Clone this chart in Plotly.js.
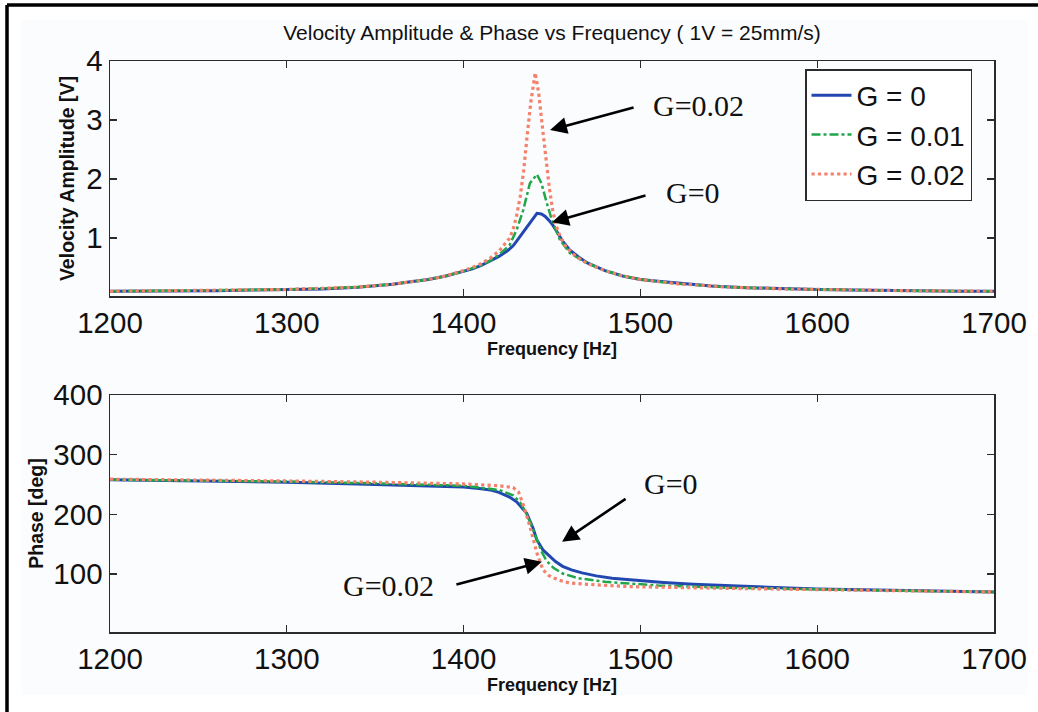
<!DOCTYPE html>
<html>
<head>
<meta charset="utf-8">
<script src="https://cdn.plot.ly/plotly-3.0.1.min.js"></script>
<style>html,body{margin:0;padding:0;background:#fff;}#chart{width:1038px;height:712px;}</style>
</head>
<body>
<div id="chart"></div>
<script>
// ---- Data ----
const seriesNames = ["G = 0", "G = 0.01", "G = 0.02"];

// Velocity amplitude [V]
const ampFreqG0 = [1200,1220,1240,1260,1280,1300,1320,1340,1360,1370,1380,1390,1400,1405,1410,1415,1420,1425,1428,1430,1433,1436,1439,1441.5,1444,1446,1448,1450,1453,1456,1460,1465,1470,1475,1480,1490,1500,1510,1520,1540,1560,1580,1600,1620,1640,1660,1680,1700];
const ampG0     = [0.10,0.10,0.11,0.11,0.12,0.13,0.14,0.17,0.22,0.26,0.30,0.36,0.44,0.48,0.54,0.61,0.69,0.79,0.87,0.95,1.07,1.20,1.33,1.42,1.41,1.37,1.31,1.24,1.10,0.95,0.80,0.68,0.58,0.51,0.45,0.36,0.30,0.27,0.24,0.19,0.16,0.14,0.13,0.12,0.11,0.11,0.10,0.10];

const ampFreqG1 = [1200,1250,1300,1340,1360,1380,1390,1400,1410,1415,1420,1426,1430,1433.7,1437.5,1441.5,1444,1447,1450,1454.5,1460,1465,1470,1475,1480,1490,1500,1520,1550,1580,1600,1650,1700];
const ampG1     = [0.10,0.11,0.13,0.17,0.22,0.30,0.36,0.44,0.54,0.62,0.72,0.88,1.14,1.47,1.93,2.08,1.93,1.60,1.30,0.97,0.75,0.66,0.58,0.51,0.45,0.36,0.30,0.23,0.17,0.14,0.13,0.11,0.10];

const ampFreqG2 = [1200,1250,1300,1340,1360,1380,1390,1400,1405,1410,1415,1420,1423,1426,1428,1430,1432,1434,1436,1438,1440.5,1442.5,1444.5,1446.5,1448.5,1450.5,1452.5,1455,1458,1462,1466,1470,1475,1480,1490,1500,1520,1550,1580,1600,1650,1700];
const ampG2     = [0.10,0.11,0.13,0.17,0.22,0.30,0.36,0.45,0.50,0.57,0.66,0.78,0.88,1.00,1.15,1.38,1.70,2.15,2.75,3.30,3.80,3.45,2.90,2.35,1.85,1.45,1.20,1.00,0.85,0.73,0.64,0.57,0.51,0.45,0.36,0.30,0.23,0.17,0.14,0.13,0.11,0.10];

// Phase [deg]
const phFreqG0 = [1200,1250,1300,1340,1370,1390,1400,1410,1415,1420,1426,1430,1432,1435.7,1439.4,1441.3,1445,1449,1452,1456,1461,1467,1475,1484,1495,1513,1530,1551,1580,1600,1650,1700];
const phG0     = [258,256,254,251,249,247,246,243,241,237,229,221,214,202,176,158,140,129,121,113,107,102,97,93,90,86,83,80,77,75,72,70];

const phFreqG1 = [1200,1250,1300,1350,1400,1420,1428,1432,1435,1438,1441,1444,1447,1451,1456,1465,1480,1510,1550,1600,1650,1700];
const phG1     = [258,257,255,252,248,241,232,220,205,185,160,138,122,110,101,93,87,81,77,74,72,70];

const phFreqG2 = [1200,1250,1300,1350,1400,1420,1428,1431,1434,1437.5,1440,1441.5,1443.5,1445,1448,1450.5,1455,1460,1475,1494,1550,1600,1650,1700];
const phG2     = [259,258,256,254,251,248,245,238,214,180,150,135,118,107,98,94,89,85,82,79,76,74,72,70];

const xTicks = [1200,1300,1400,1500,1600,1700];
const ampTicks = [1,2,3,4];
const phTicks = [100,200,300,400];

// ---- Styles ----
const colors = ["#2347b0", "#1fa648", "#f5806c"];
const dashes = ["solid", "dashdot", "dot"];
const widths = [3, 2.5, 3.2];
const FONT = "Liberation Sans, Arial, Helvetica, sans-serif";
const SERIF = "Liberation Serif, Times New Roman, serif";

const ampX = [ampFreqG0, ampFreqG1, ampFreqG2];
const ampY = [ampG0, ampG1, ampG2];
const phX = [phFreqG0, phFreqG1, phFreqG2];
const phY = [phG0, phG1, phG2];

const traces = [];
for (let i = 0; i < 3; i++) {
  traces.push({x: ampX[i], y: ampY[i], xaxis: "x", yaxis: "y", type: "scatter", mode: "lines",
    name: seriesNames[i], line: {color: colors[i], dash: dashes[i], width: widths[i]}, showlegend: true});
}
for (let i = 0; i < 3; i++) {
  traces.push({x: phX[i], y: phY[i], xaxis: "x2", yaxis: "y2", type: "scatter", mode: "lines",
    name: seriesNames[i], line: {color: colors[i], dash: dashes[i], width: widths[i]}, showlegend: false});
}

const W = 1038, H = 712;
const px = v => v / W;
const py = v => 1 - v / H;

const axisCommon = {
  showline: true, linecolor: "#2b2b2b", linewidth: 1.5, mirror: "ticks",
  ticks: "inside", ticklen: 7, tickwidth: 1.3, tickcolor: "#2b2b2b",
  showgrid: false, zeroline: false,
  tickfont: {family: FONT, size: 29.5, color: "#111"}
};
const xTitleFont = {family: FONT, size: 18, color: "#111", weight: "bold"};
const yTitleFont = {family: FONT, size: 19.5, color: "#111", weight: "bold"};

const layout = {
  width: W, height: H,
  margin: {l: 0, r: 0, t: 0, b: 0},
  paper_bgcolor: "#ffffff", plot_bgcolor: "#ffffff",
  font: {family: FONT, color: "#111"},
  title: {text: "Velocity Amplitude &amp; Phase vs Frequency ( 1V = 25mm/s)", font: {family: FONT, size: 21, color: "#111"},
    xref: "container", yref: "container", x: 552 / W, y: py(33), xanchor: "center", yanchor: "middle"},
  xaxis: Object.assign({}, axisCommon, {domain: [px(110), px(994)], range: [1200, 1700], tickvals: xTicks, anchor: "y",
    title: {text: "Frequency [Hz]", font: xTitleFont, standoff: 4}}),
  yaxis: Object.assign({}, axisCommon, {domain: [py(296), py(61)], range: [0.02, 4], tickvals: ampTicks, anchor: "x",
    title: {text: "Velocity Amplitude [V]", font: yTitleFont, standoff: 6}}),
  xaxis2: Object.assign({}, axisCommon, {domain: [px(110), px(994)], range: [1200, 1700], tickvals: xTicks, anchor: "y2",
    title: {text: "Frequency [Hz]", font: xTitleFont, standoff: 4}}),
  yaxis2: Object.assign({}, axisCommon, {domain: [py(632), py(395)], range: [3, 400], tickvals: phTicks, anchor: "x2",
    title: {text: "Phase [deg]", font: yTitleFont, standoff: 4}}),
  legend: {x: px(805), y: py(69), xanchor: "left", yanchor: "top", bgcolor: "#ffffff",
    bordercolor: "#2b2b2b", borderwidth: 1.5, font: {family: FONT, size: 28, color: "#111"},
    itemwidth: 40, tracegroupgap: 0},
  shapes: [
    {type: "rect", xref: "paper", yref: "paper", x0: px(22), x1: px(1028), y0: py(695), y1: py(20),
      fillcolor: "#fbfcfe", line: {width: 0}, layer: "below"},
    {type: "line", xref: "paper", yref: "paper", x0: px(7), x1: px(7), y0: py(712), y1: py(5), line: {color: "#000", width: 3.5}},
    {type: "line", xref: "paper", yref: "paper", x0: px(7), x1: px(1038), y0: py(5), y1: py(5), line: {color: "#000", width: 3.5}}
  ],
  annotations: [
    {xref: "x", yref: "y", x: 1448.9, y: 2.83, ax: 85, ay: -23, text: "", showarrow: true, arrowhead: 2, arrowsize: 1.3, arrowwidth: 2.6, arrowcolor: "#000"},
    {xref: "x", yref: "y", x: 1450.0, y: 1.27, ax: 95, ay: -27, text: "", showarrow: true, arrowhead: 2, arrowsize: 1.3, arrowwidth: 2.6, arrowcolor: "#000"},
    {xref: "x2", yref: "y2", x: 1455.7, y: 154, ax: 65, ay: -44, text: "", showarrow: true, arrowhead: 2, arrowsize: 1.3, arrowwidth: 2.6, arrowcolor: "#000"},
    {xref: "x2", yref: "y2", x: 1444.3, y: 120.5, ax: -87, ay: 23, text: "", showarrow: true, arrowhead: 2, arrowsize: 1.3, arrowwidth: 2.6, arrowcolor: "#000"},
    {xref: "paper", yref: "paper", x: px(698), y: py(106), text: "G=0.02", showarrow: false, xanchor: "center", yanchor: "middle", font: {family: SERIF, size: 30, color: "#111"}},
    {xref: "paper", yref: "paper", x: px(693), y: py(192), text: "G=0", showarrow: false, xanchor: "center", yanchor: "middle", font: {family: SERIF, size: 30, color: "#111"}},
    {xref: "paper", yref: "paper", x: px(671), y: py(483), text: "G=0", showarrow: false, xanchor: "center", yanchor: "middle", font: {family: SERIF, size: 30, color: "#111"}},
    {xref: "paper", yref: "paper", x: px(388), y: py(585), text: "G=0.02", showarrow: false, xanchor: "center", yanchor: "middle", font: {family: SERIF, size: 30, color: "#111"}}
  ]
};

Plotly.newPlot("chart", traces, layout, {displayModeBar: false, staticPlot: true});
</script>
</body>
</html>
